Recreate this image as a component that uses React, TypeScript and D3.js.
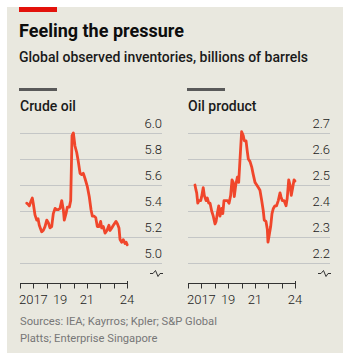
import React from "react";
import * as d3 from "d3";

const title = "Feeling the pressure";
const subtitle = "Global observed inventories, billions of barrels";
const sourceLines = ["Sources: IEA; Kayrros; Kpler; S&P Global", "Platts; Enterprise Singapore"];

const crudeDates = [
  2017.0, 2017.12, 2017.2, 2017.3, 2017.42, 2017.49, 2017.62, 2017.75, 2017.85, 2017.94,
  2018.12, 2018.24, 2018.37, 2018.5, 2018.62, 2018.74, 2018.87, 2018.99, 2019.12, 2019.24,
  2019.36, 2019.49, 2019.62, 2019.74, 2019.81, 2019.94, 2020.04, 2020.19, 2020.29, 2020.39,
  2020.49, 2020.61, 2020.74, 2020.86, 2020.99, 2021.11, 2021.23, 2021.36, 2021.53, 2021.68,
  2021.81, 2021.91, 2022.03, 2022.16, 2022.28, 2022.41, 2022.53, 2022.61, 2022.73, 2022.86,
  2023.0, 2023.15, 2023.23, 2023.36, 2023.48, 2023.68, 2023.79, 2023.9, 2023.98, 2024.1,
  2024.22, 2024.35, 2024.43, 2024.52,
];
const crudeValues = [
  5.46, 5.45, 5.44, 5.47, 5.5, 5.46, 5.37, 5.33, 5.34, 5.29,
  5.24, 5.25, 5.28, 5.33, 5.31, 5.27, 5.28, 5.38, 5.42, 5.41,
  5.41, 5.42, 5.48, 5.41, 5.33, 5.38, 5.43, 5.43, 5.48, 5.98,
  6.0, 5.9, 5.85, 5.78, 5.69, 5.68, 5.69, 5.65, 5.59, 5.51,
  5.41, 5.36, 5.36, 5.35, 5.28, 5.28, 5.32, 5.27, 5.28, 5.23,
  5.25, 5.29, 5.25, 5.27, 5.29, 5.32, 5.3, 5.27, 5.18, 5.16,
  5.18, 5.15, 5.16, 5.14,
];

const productDates = [
  2017.02, 2017.1, 2017.15, 2017.23, 2017.32, 2017.45, 2017.52, 2017.64, 2017.72, 2017.85,
  2017.94, 2018.05, 2018.15, 2018.27, 2018.39, 2018.52, 2018.6, 2018.69, 2018.8, 2018.89,
  2019.02, 2019.1, 2019.19, 2019.34, 2019.45, 2019.57, 2019.69, 2019.79, 2019.88, 2019.96,
  2020.07, 2020.19, 2020.29, 2020.39, 2020.51, 2020.63, 2020.71, 2020.84, 2020.93, 2021.01,
  2021.14, 2021.26, 2021.38, 2021.51, 2021.64, 2021.76, 2021.88, 2022.01, 2022.13, 2022.2,
  2022.33, 2022.43, 2022.48, 2022.58, 2022.68, 2022.78, 2022.88, 2023.0, 2023.12, 2023.25,
  2023.38, 2023.45, 2023.55, 2023.68, 2023.83, 2023.92, 2024.03, 2024.13, 2024.22, 2024.33,
  2024.43, 2024.5,
];
const productValues = [
  2.5, 2.48, 2.47, 2.43, 2.44, 2.44, 2.455, 2.49, 2.46, 2.44,
  2.45, 2.43, 2.43, 2.4, 2.38, 2.35, 2.36, 2.39, 2.42, 2.38,
  2.41, 2.39, 2.44, 2.44, 2.44, 2.43, 2.46, 2.52, 2.51, 2.455,
  2.5, 2.53, 2.51, 2.6, 2.705, 2.69, 2.67, 2.67, 2.63, 2.6,
  2.59, 2.57, 2.54, 2.51, 2.5, 2.49, 2.48, 2.44, 2.4, 2.365,
  2.36, 2.33, 2.28, 2.31, 2.34, 2.39, 2.41, 2.42, 2.42, 2.44,
  2.47, 2.455, 2.44, 2.44, 2.42, 2.45, 2.52, 2.5, 2.46, 2.49,
  2.52, 2.515,
];

const crudeTicks = [5.0, 5.2, 5.4, 5.6, 5.8, 6.0];
const productTicks = [2.2, 2.3, 2.4, 2.5, 2.6, 2.7];
const xTickYears = [2016.5, 2017.5, 2018.5, 2019.5, 2020.5, 2021.5, 2022.5, 2023.5, 2024.5];
const xLabelYears = [2017.5, 2019.5, 2021.5, 2024.5];
const xLabels = ["2017", "19", "21", "24"];

const RED = "#f0462b";
const BG = "#e9e8df";
const FONT = "Roboto, 'Noto Sans', sans-serif";

type PanelProps = {
  x0: number;
  name: string;
  dates: number[];
  values: number[];
  ticks: number[];
  decimals: number;
};

function Panel({ x0, name, dates, values, ticks, decimals }: PanelProps) {
  const x = d3.scaleLinear().domain([2016.5, 2024.5]).range([x0 + 20, x0 + 127]);
  const y = d3
    .scaleLinear()
    .domain([ticks[0], ticks[ticks.length - 1]])
    .range([263, 133]);
  const gridLeft = x0 + 20;
  const gridRight = x0 + 162;
  const pts = dates.map((d, i) => [d, values[i]] as [number, number]);
  const line = d3
    .line<[number, number]>()
    .x((d) => x(d[0]))
    .y((d) => y(d[1]))
    .curve(d3.curveLinear);
  const axisY = 283.5;
  const bx = gridRight - 12;
  const by = 273.5;
  return (
    <g>
      <rect x={x0 + 19} y={88} width={38} height={3} fill="#595959" />
      <text x={x0 + 20} y={111} fontFamily={FONT} fontWeight={500} fontSize={14} fill="#1a1a1a">
        {name}
      </text>
      {ticks.map((t) => (
        <g key={t}>
          <line x1={gridLeft} x2={gridRight} y1={y(t) + 0.5} y2={y(t) + 0.5} stroke="#c4c6c6" strokeWidth={1} />
          <text
            x={gridRight}
            y={y(t) - 5}
            textAnchor="end"
            fontFamily={FONT}
            fontWeight={300}
            fontSize={13}
            fill="#1a1a1a"
          >
            {t.toFixed(decimals)}
          </text>
        </g>
      ))}
      <path
        d={`M${bx},${by} L${bx + 3},${by} L${bx + 5.5},${by - 3} L${bx + 8},${by + 3} L${bx + 10},${by} L${bx + 13},${by}`}
        fill="none"
        stroke="#333"
        strokeWidth={1}
      />
      <path d={line(pts) || ""} fill="none" stroke={RED} strokeWidth={2.8} strokeLinejoin="round" strokeLinecap="round" />
      <line x1={x(2016.5)} x2={x(2024.5) + 0.5} y1={axisY} y2={axisY} stroke="#333" strokeWidth={1} />
      {xTickYears.map((t, i) => (
        <line
          key={t}
          x1={Math.round(x(t)) + 0.5}
          x2={Math.round(x(t)) + 0.5}
          y1={i === xTickYears.length - 1 ? axisY - 2.5 : axisY}
          y2={axisY + 5}
          stroke="#333"
          strokeWidth={1}
        />
      ))}
      {xLabelYears.map((t, i) => (
        <text
          key={t}
          x={x(t)}
          y={304}
          textAnchor="middle"
          fontFamily={FONT}
          fontWeight={300}
          fontSize={13}
          fill="#1a1a1a"
        >
          {xLabels[i]}
        </text>
      ))}
    </g>
  );
}

export default function App() {
  return (
    <svg
      width={351}
      height={361}
      style={{ position: "absolute", left: 0, top: 0, display: "block" }}
    >
      <rect x={0} y={0} width={351} height={361} fill="#ffffff" />
      <rect x={7} y={7} width={336} height={346} fill={BG} />
      <rect x={19} y={7} width={38} height={5} fill="#e3120b" />
      <text x={19} y={37} fontFamily={FONT} fontWeight={700} fontSize={18} fill="#0d0d0d">
        {title}
      </text>
      <text x={19} y={62} fontFamily={FONT} fontWeight={500} fontSize={14} fill="#1a1a1a">
        {subtitle}
      </text>
      <Panel x0={0} name="Crude oil" dates={crudeDates} values={crudeValues} ticks={crudeTicks} decimals={1} />
      <Panel x0={168} name="Oil product" dates={productDates} values={productValues} ticks={productTicks} decimals={1} />
      {sourceLines.map((s, i) => (
        <text key={i} x={20} y={325 + i * 17} fontFamily={FONT} fontWeight={400} fontSize={11.2} fill="#777">
          {s}
        </text>
      ))}
    </svg>
  );
}
